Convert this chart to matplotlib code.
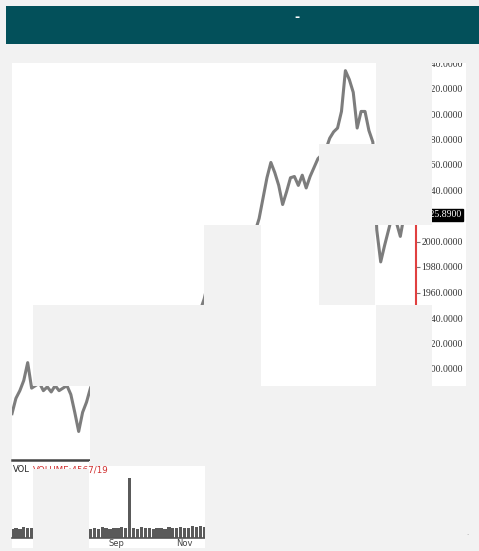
import matplotlib
matplotlib.use('Agg')
import matplotlib.pyplot as plt
from matplotlib.patches import Rectangle
import pandas as pd

# price closes (about two points a week)
close = [1865, 1877, 1883, 1891, 1905, 1885, 1887, 1889, 1883, 1886,
         1882, 1887, 1883, 1885, 1887, 1880, 1866, 1851, 1866, 1874,
         1885, 1893, 1900, 1896, 1908, 1915, 1910, 1921, 1928, 1918,
         1906, 1912, 1922, 1917, 1926, 1933, 1929, 1938, 1932, 1924,
         1930, 1937, 1941, 1935, 1940, 1944, 1938, 1943, 1946, 1955,
         1968, 1962, 1975, 1983, 1978, 1990, 1996, 1988, 1997, 2004,
         1998, 2003, 2008, 2018, 2034, 2050, 2062, 2054, 2044, 2029,
         2039, 2050, 2051, 2044, 2052, 2042, 2051, 2058, 2065, 2068,
         2072, 2081, 2086, 2089, 2102, 2134, 2127, 2117, 2089, 2102,
         2102, 2087, 2078, 2009, 1984, 1997, 2009, 2021, 2015, 2004,
         2021, 2029, 2023, 2025.89]
volume = [380, 420, 360, 450, 400, 430, 410, 390, 420, 400,
          380, 410, 430, 400, 390, 420, 450, 470, 430, 400,
          360, 420, 390, 440, 410, 380, 430, 400, 450, 420,
          2500, 410, 380, 440, 400, 420, 390, 430, 410, 380,
          460, 420, 400, 470, 430, 410, 480, 440, 500, 460,
          420, 440, 410, 430, 450, 420, 400, 440, 430, 410,
          420, 450, 430, 440, 470, 450, 430, 420, 440, 410,
          430, 450, 420, 440, 410, 430, 450, 470, 440, 420,
          450, 480, 500, 460, 520, 540, 500, 480, 460, 470,
          450, 440, 460, 480, 500, 470, 450, 440, 460, 450,
          430, 440, 450, 420]
dates = pd.date_range('2023-05-30', '2024-05-27', periods=len(close))
price_ticks = [1840, 1860, 1880, 1900, 1920, 1940, 1960, 1980, 2000,
               2020, 2040, 2060, 2080, 2100, 2120, 2140]
month_ticks = ['2023-09-01', '2023-11-01']
month_labels = ['Sep', 'Nov']

W, H = 479, 551
BG = '#f2f2f2'


def box(x0, y0, x1, y1):
    # pixel box (top-left origin) -> figure fraction rect
    return x0 / W, 1 - y1 / H, (x1 - x0) / W, (y1 - y0) / H


def cover(x0, y0, x1, y1, color=BG, z=1):
    x, y, w, h = box(x0, y0, x1, y1)
    fig.patches.append(Rectangle((x, y), w, h, transform=fig.transFigure,
                                 facecolor=color, edgecolor='none', zorder=z))


fig = plt.figure(figsize=(W / 100, H / 100), dpi=100)
fig.patch.set_facecolor(BG)

# white chart background
cover(12, 63, 466, 548, color='white', z=-1)

# price panel
ax = fig.add_axes(box(12, 63, 416, 460))
ax.set_facecolor('none')
ax.plot(dates, close, color='#7d7d7d', lw=2.2)
ax.set_xlim(dates[0], dates[-1])
ax.set_ylim(2140 - (460 - 63) * 20 / 25.5, 2140)
ax.yaxis.tick_right()
ax.set_yticks(price_ticks)
# the 2020 label sits under the last-price box
ax.set_yticklabels(['' if v == 2020 else '%.4f' % v for v in price_ticks],
                   fontfamily='Liberation Serif', fontsize=7, color='#333333')
ax.tick_params(axis='y', length=3, pad=1, color='#777777')
ax.set_xticks([])
for s in ['top', 'left']:
    ax.spines[s].set_visible(False)
ax.spines['right'].set_color('#e04040')
ax.spines['right'].set_linewidth(1.5)
ax.spines['bottom'].set_color('#444444')
ax.spines['bottom'].set_linewidth(1.8)
ax.annotate('%.4f' % close[-1], xy=(1.0, close[-1]),
            xycoords=('axes fraction', 'data'),
            xytext=(3, -4.5), textcoords='offset points',
            ha='left', va='center', fontfamily='Liberation Serif', fontsize=7,
            color='white', annotation_clip=False,
            bbox=dict(boxstyle='square,pad=0.15', facecolor='black', edgecolor='black'))

# volume panel
vax = fig.add_axes(box(12, 466, 416, 538))
vax.set_facecolor('none')
vax.bar(dates, volume, width=3.0, color='#5a5a5a')
vax.set_xlim(dates[0], dates[-1])
vax.set_ylim(0, 3000)
vax.set_yticks([])
vax.set_xticks(pd.to_datetime(month_ticks))
vax.set_xticklabels(month_labels, fontsize=6, color='#444444')
vax.tick_params(axis='x', length=0, pad=1)
for s in ['top', 'left', 'right']:
    vax.spines[s].set_visible(False)
vax.spines['bottom'].set_color('#555555')
vax.spines['bottom'].set_linewidth(1.2)

# tiles that never loaded
missing = [(12, 44, 479, 63), (376, 63, 432, 144), (319, 144, 432, 225),
           (204, 225, 261, 386), (319, 225, 375, 305), (33, 305, 204, 386),
           (376, 305, 432, 386), (90, 386, 466, 461), (33, 469, 89, 548),
           (89, 461, 205, 466), (205, 461, 466, 548)]
for b in missing:
    cover(*b)

# header bar
cover(6, 6, 479, 44, color='#03505a', z=2)
fig.text(297 / W, 1 - 17 / H, '-', color='white', fontsize=9, fontweight='bold',
         ha='center', va='center', zorder=3)

fig.text(13 / W, 1 - 469 / H, 'VOL', fontsize=6, color='#222222', va='center', zorder=3)
fig.text(33 / W, 1 - 470 / H, 'VOLUME:4567/19', fontsize=6.3, color='#d03030',
         va='center', zorder=0.5)
fig.text(467 / W, 1 - 535 / H, '.', fontsize=5, color='#999999', ha='center', zorder=3)

fig.savefig('out.png', dpi=100, facecolor=BG)
